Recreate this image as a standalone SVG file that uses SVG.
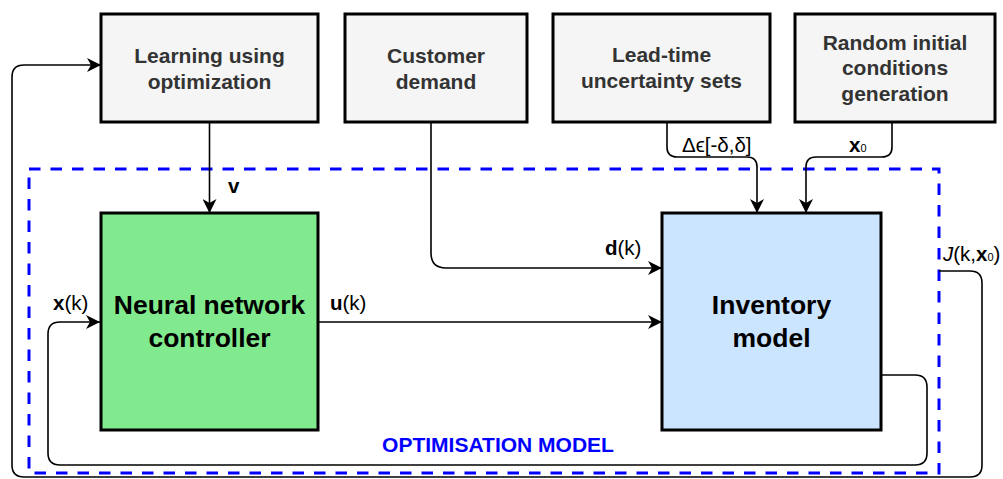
<svg xmlns="http://www.w3.org/2000/svg" width="1003" height="479" viewBox="0 0 1003 479">
<style>
.box{stroke:#000;stroke-width:3}
.gray{fill:#f5f5f5}
.gt{font-family:"Liberation Sans",Arial,sans-serif;font-weight:bold;font-size:21px;fill:#333;text-anchor:middle}
.bt{font-family:"Liberation Sans",Arial,sans-serif;font-weight:bold;font-size:26.5px;fill:#000;text-anchor:middle}
.lbl{font-family:"Liberation Sans",Arial,sans-serif;font-size:20.5px;fill:#000}
.con{fill:none;stroke:#000;stroke-width:1.6}
</style>
<defs>
<marker id="arr" viewBox="0 0 14 14" refX="14" refY="7" markerWidth="14" markerHeight="14" orient="auto" markerUnits="userSpaceOnUse">
<path d="M0,0 L14,7 L0,14 L4,7 z" fill="#000"/>
</marker>
</defs>
<rect width="1003" height="479" fill="#fff"/>
<g id="optimisation-model">
<rect x="29" y="169" width="910" height="304" fill="none" stroke="#0000ff" stroke-width="3" stroke-dasharray="11.5 10"/>
<text x="498" y="452" text-anchor="middle" font-family="'Liberation Sans',Arial,sans-serif" font-weight="bold" font-size="21" fill="#0000ff">OPTIMISATION MODEL</text>
</g>
<g id="connectors">
<path class="con" d="M209.5 122 V213" marker-end="url(#arr)"/>
<path class="con" d="M431 122 V253 Q431 268 446 268 H662" marker-end="url(#arr)"/>
<path class="con" d="M318 322 H662" marker-end="url(#arr)"/>
<path class="con" d="M667 122 V147 Q667 157 677 157 H747 Q757 157 757 167 V213" marker-end="url(#arr)"/>
<path class="con" d="M892 122 V147 Q892 157 882 157 H816 Q806 157 806 167 V213" marker-end="url(#arr)"/>
<path class="con" d="M881 375 H915 Q927 375 927 387 V453 Q927 465 915 465 H60 Q48 465 48 453 V334 Q48 322 60 322 H100" marker-end="url(#arr)"/>
<path class="con" d="M939 271 H970 Q982 271 982 283 V465 Q982 477 970 477 H24 Q12 477 12 465 V77 Q12 65 24 65 H101" marker-end="url(#arr)"/>
<text class="lbl" x="228" y="193" font-weight="bold">v</text>
<text class="lbl" x="53" y="310"><tspan font-weight="bold">x</tspan>(k)</text>
<text class="lbl" x="330" y="310"><tspan font-weight="bold">u</tspan>(k)</text>
<text class="lbl" x="605" y="255"><tspan font-weight="bold">d</tspan>(k)</text>
<text class="lbl" x="682" y="152">Δϵ[-δ,δ]</text>
<text class="lbl" x="849" y="152"><tspan font-weight="bold">x</tspan><tspan font-size="11">0</tspan></text>
<text class="lbl" x="943" y="261"><tspan font-style="italic">J</tspan>(k,<tspan font-weight="bold">x</tspan><tspan font-size="11">0</tspan>)</text>
</g>
<g id="learning">
<rect class="box gray" x="101" y="14" width="217" height="108"/>
<text class="gt" x="209.5" y="63">Learning using</text>
<text class="gt" x="209.5" y="89">optimization</text>
</g>
<g id="customer-demand">
<rect class="box gray" x="345" y="14" width="182" height="108"/>
<text class="gt" x="436" y="63">Customer</text>
<text class="gt" x="436" y="89">demand</text>
</g>
<g id="lead-time">
<rect class="box gray" x="553" y="14" width="217" height="108"/>
<text class="gt" x="661.5" y="62">Lead-time</text>
<text class="gt" x="661.5" y="88">uncertainty sets</text>
</g>
<g id="random-initial">
<rect class="box gray" x="795" y="14" width="200" height="108"/>
<text class="gt" x="895" y="49.5">Random initial</text>
<text class="gt" x="895" y="75">conditions</text>
<text class="gt" x="895" y="100.5">generation</text>
</g>
<g id="nn-controller">
<rect class="box" x="101" y="213" width="217" height="217" fill="#82ea8e"/>
<text class="bt" x="209.5" y="314">Neural network</text>
<text class="bt" x="209.5" y="347">controller</text>
</g>
<g id="inventory-model">
<rect class="box" x="662" y="213" width="219" height="217" fill="#cce5ff"/>
<text class="bt" x="771.5" y="314">Inventory</text>
<text class="bt" x="771.5" y="347">model</text>
</g>
</svg>
